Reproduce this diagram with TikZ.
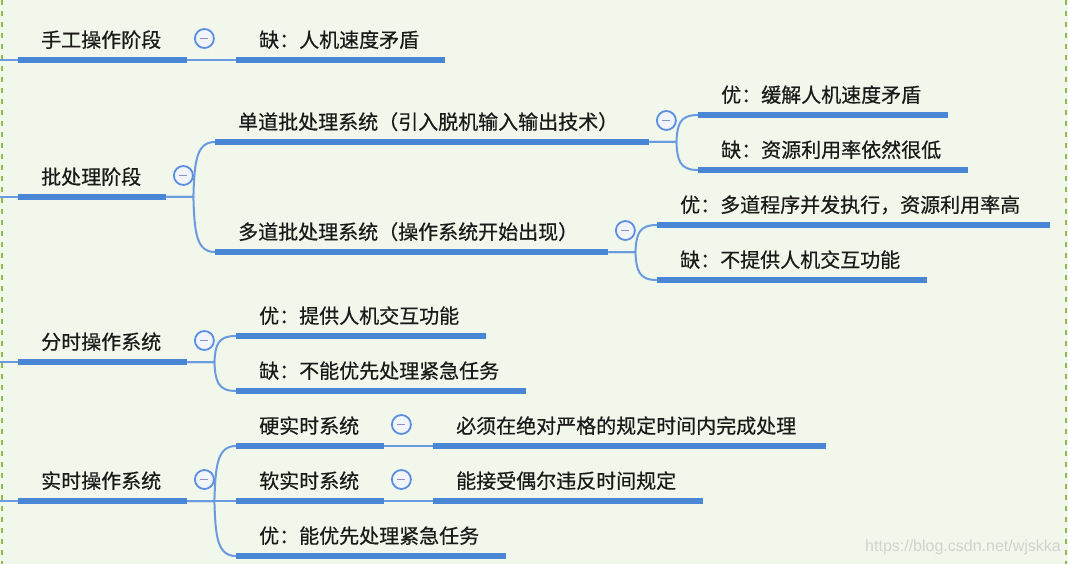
\documentclass[tikz,border=0pt]{standalone}
\usepackage{fontspec}
\newfontfamily\cjk[FakeBold=0.5]{Noto Sans CJK SC}
\newfontfamily\wmfont{Liberation Sans}
\usetikzlibrary{calc}
\definecolor{bg}{HTML}{F1F7EA}
\definecolor{barblue}{HTML}{4A86D6}
\definecolor{linkblue}{HTML}{6A9BE0}
\definecolor{bordergreen}{HTML}{8DBB52}
\definecolor{togglefill}{HTML}{F2F4FB}
\definecolor{toggleline}{HTML}{5B8EE0}
\definecolor{minuscol}{HTML}{8E90C4}
\definecolor{txt}{HTML}{1A1A1A}
\definecolor{wm}{HTML}{D0D4CC}
\newcommand\tbox[2]{\makebox[#1pt][l]{\hspace{23pt}#2}}
\begin{document}
\begin{tikzpicture}[x=1pt,y=-1pt,
 topic/.style={anchor=south west, inner xsep=0pt, inner ysep=9.5pt, text height=15pt, text depth=3pt, font=\cjk\fontsize{20}{24}\selectfont, text=txt},
 bar/.style={draw=barblue, line width=5.5pt},
 conn/.style={draw=linkblue, line width=2pt},
 tree/.style={to path={let \p1=(\tikztostart), \p2=(\tikztotarget) in -- (\x1+27pt,\y1) .. controls (\x1+28pt,{\y2+0.35*(\y1-\y2)}) and (\x1+30pt,\y2) .. (\tikztotarget)}},
 toggle/.style={circle, draw=toggleline, line width=1.8pt, fill=togglefill, minimum size=19pt, inner sep=0pt, path picture={\draw[minuscol, line width=1.8pt] ([xshift=-4pt]path picture bounding box.center) -- ([xshift=4pt]path picture bounding box.center);}},
 border/.style={draw=bordergreen, line width=2pt, dash pattern=on 5pt off 6pt}]

\fill[bg] (0,0) rectangle (1068,564);
\useasboundingbox (0,0) rectangle (1068,564);
\draw[border] (1.5,0) -- (1.5,564);
\draw[border] (1066,0) -- (1066,564);

% level 1
\node[topic] (n1) at (18,60) {\tbox{169}{手工操作阶段}};
\node[topic] (n2) at (18,197) {\tbox{148}{批处理阶段}};
\node[topic] (n3) at (18,362) {\tbox{169}{分时操作系统}};
\node[topic] (n4) at (18,501) {\tbox{169}{实时操作系统}};
% level 2
\node[topic] (n1a) at (236,60) {\tbox{209}{缺：人机速度矛盾}};
\node[topic] (n2a) at (215,142) {\tbox{434}{单道批处理系统（引入脱机输入输出技术）}};
\node[topic] (n2b) at (215,252) {\tbox{393}{多道批处理系统（操作系统开始出现）}};
\node[topic] (n3a) at (236,336) {\tbox{250}{优：提供人机交互功能}};
\node[topic] (n3b) at (236,391) {\tbox{290}{缺：不能优先处理紧急任务}};
\node[topic] (n4a) at (236,446) {\tbox{148}{硬实时系统}};
\node[topic] (n4b) at (236,501) {\tbox{148}{软实时系统}};
\node[topic] (n4c) at (236,556) {\tbox{270}{优：能优先处理紧急任务}};
% level 3
\node[topic] (n2a1) at (698,115) {\tbox{250}{优：缓解人机速度矛盾}};
\node[topic] (n2a2) at (698,170) {\tbox{270}{缺：资源利用率依然很低}};
\node[topic] (n2b1) at (657,225) {\tbox{393}{优：多道程序并发执行，资源利用率高}};
\node[topic] (n2b2) at (657,280) {\tbox{270}{缺：不提供人机交互功能}};
\node[topic] (n4a1) at (433,446) {\tbox{393}{必须在绝对严格的规定时间内完成处理}};
\node[topic] (n4b1) at (433,501) {\tbox{270}{能接受偶尔违反时间规定}};

% edge entry points at left border
\coordinate (e1) at (0,60);
\coordinate (e2) at (0,197);
\coordinate (e3) at (0,362);
\coordinate (e4) at (0,501);

% connectors
\draw[conn] (e1) -- (n1.south west);
\draw[conn] (e2) -- (n2.south west);
\draw[conn] (e3) -- (n3.south west);
\draw[conn] (e4) -- (n4.south west);
\draw[conn] (n1.south east) -- (n1a.south west);
\draw[conn] (n2.south east) to[tree] (n2a.south west);
\draw[conn] (n2.south east) to[tree] (n2b.south west);
\draw[conn] (n2a.south east) to[tree] (n2a1.south west);
\draw[conn] (n2a.south east) to[tree] (n2a2.south west);
\draw[conn] (n2b.south east) to[tree] (n2b1.south west);
\draw[conn] (n2b.south east) to[tree] (n2b2.south west);
\draw[conn] (n3.south east) to[tree] (n3a.south west);
\draw[conn] (n3.south east) to[tree] (n3b.south west);
\draw[conn] (n4.south east) to[tree] (n4a.south west);
\draw[conn] (n4.south east) -- (n4b.south west);
\draw[conn] (n4.south east) to[tree] (n4c.south west);
\draw[conn] (n4a.south east) -- (n4a1.south west);
\draw[conn] (n4b.south east) -- (n4b1.south west);

% bars under topics
\foreach \n in {n1,n2,n3,n4,n1a,n2a,n2b,n3a,n3b,n4a,n4b,n4c,n2a1,n2a2,n2b1,n2b2,n4a1,n4b1}
  \draw[bar] (\n.south west) -- (\n.south east);

% collapse toggles
\foreach \n in {n1,n2,n2a,n2b,n3,n4,n4a,n4b}
  \node[toggle] (t-\n) at ($(\n.south east)+(17,-21.5)$) {};

% watermark
\node[font=\wmfont\fontsize{16}{18}\selectfont, text=wm, anchor=base west, inner sep=0pt] (wm) at (865,551) {https://blog.csdn.net/wjskka};
\end{tikzpicture}
\end{document}
